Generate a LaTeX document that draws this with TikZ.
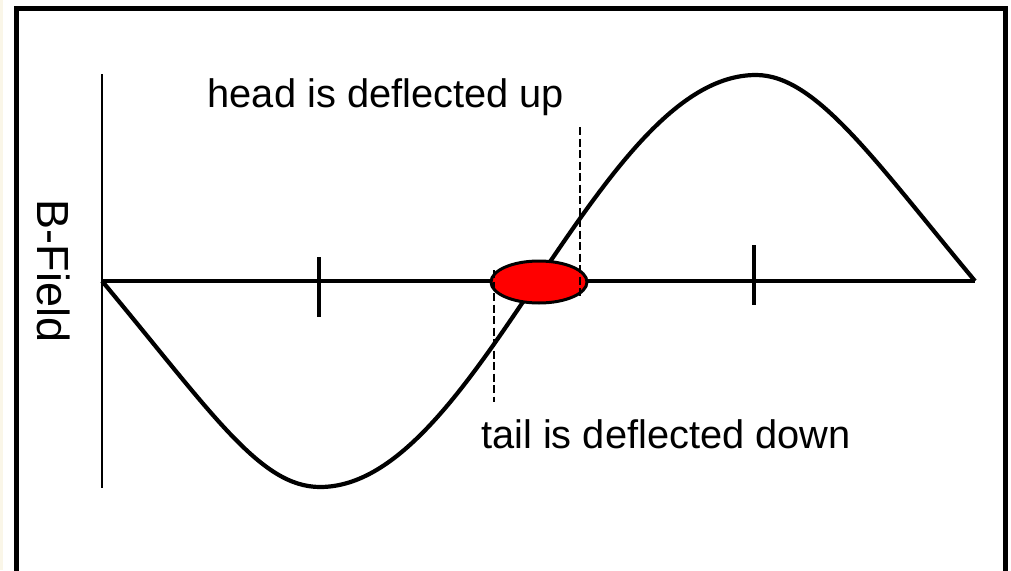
\documentclass[tikz,border=0pt]{standalone}
\usepackage{fontspec}
\setmainfont{Liberation Sans}
\begin{document}
\begin{tikzpicture}[x=1pt,y=-1pt,
  frame/.style={line width=5pt},
  axisline/.style={line width=4pt},
  wave/.style={line width=4.2pt, line join=round},
  guide/.style={line width=2.2pt, dash pattern=on 8pt off 3.5pt},
  txt/.style={inner sep=0pt, font=\fontsize{39.8}{47}\selectfont}]
\useasboundingbox (0,0) rectangle (1011,570);
\clip (0,0) rectangle (1011,570);
\fill[fill={rgb,255:red,250;green,246;blue,232}] (0,0) rectangle (3,570);
\draw[frame] (16.5,580) -- (16.5,8) -- (1005,8) -- (1005,580);
\draw[line width=2pt] (102,74) -- (102,488);
\draw[axisline] (102,281) -- (975,281);
\draw[axisline] (319,257) -- (319,317);
\draw[axisline] (754,245) -- (754,305);
\draw[wave] (102,281) .. controls (212,413) and (260,487) .. (320,487)
  cos (537,281) sin (756,75)
  .. controls (816,75) and (875,161) .. (975,281);
\draw[line width=3pt, fill=red] (539,282) ellipse [x radius=48pt, y radius=21pt];
\draw[guide] (494,270) -- (494,402);
\draw[guide] (580,127) -- (580,297);
\node[txt, anchor=base west] (head) at (207.5,107) {head is deflected up};
\node[txt, anchor=base west] (tail) at (481,448) {tail is deflected down};
\node[inner sep=0pt, font=\fontsize{45}{54}\selectfont, rotate=-90, anchor=base] (bfield) at (37,271) {B-Field};
\end{tikzpicture}
\end{document}
